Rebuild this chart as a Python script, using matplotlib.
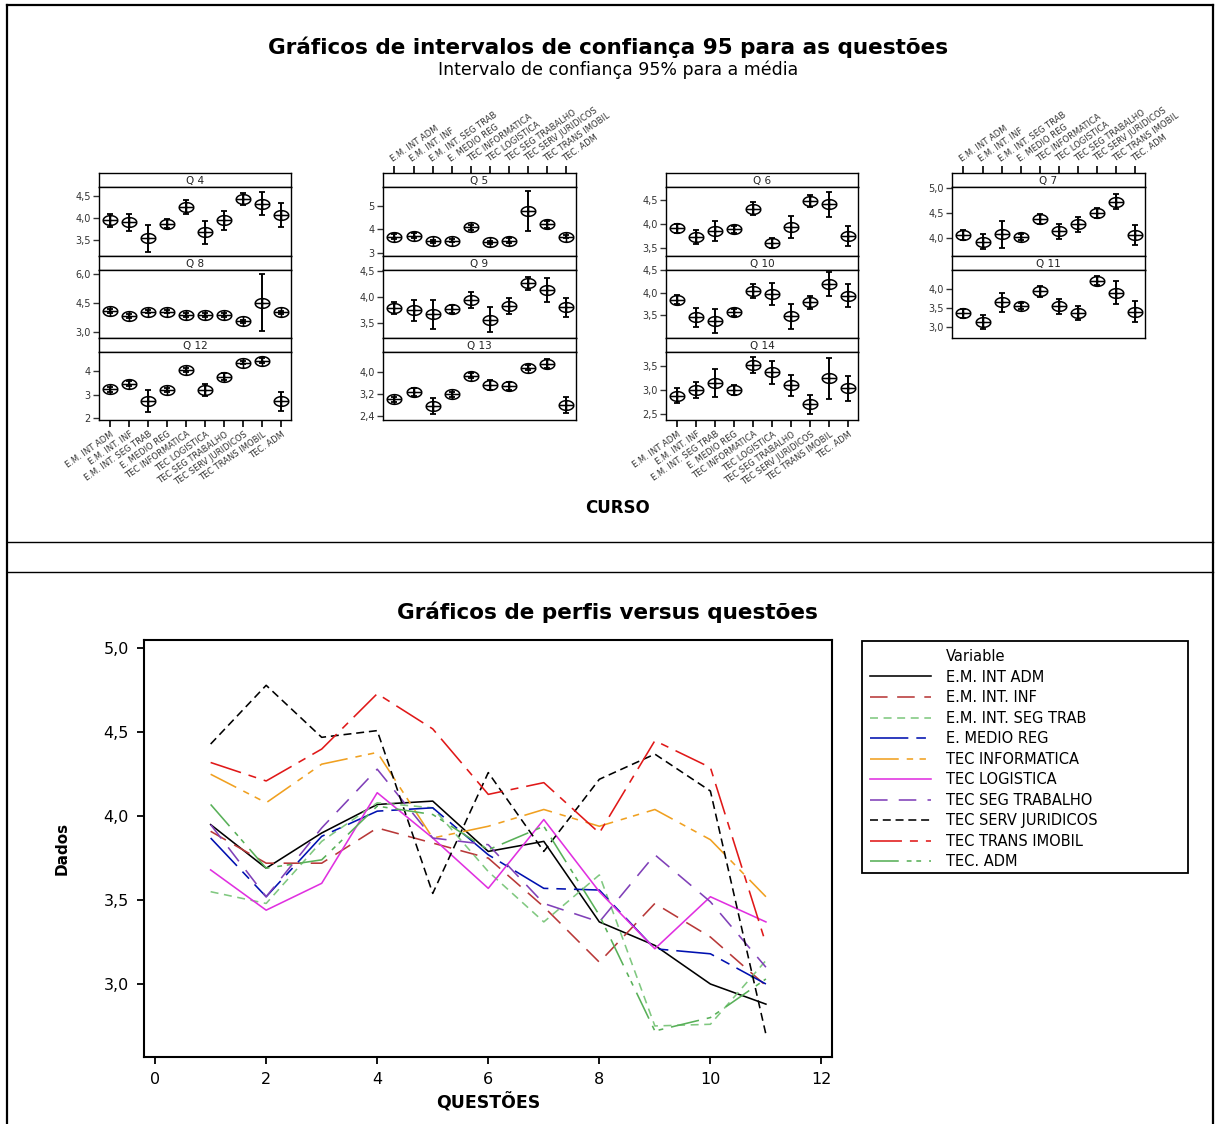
import numpy as np
import matplotlib.pyplot as plt
from matplotlib.path import Path
from matplotlib.lines import Line2D
from matplotlib.patches import Rectangle
from matplotlib.ticker import FuncFormatter

plt.rcParams['font.family'] = ['DejaVu Sans']

# cursos (categorias) e questões
courses = ["E.M. INT ADM", "E.M. INT. INF", "E.M. INT. SEG TRAB", "E. MEDIO REG",
           "TEC INFORMATICA", "TEC LOGISTICA", "TEC SEG TRABALHO",
           "TEC SERV JURIDICOS", "TEC TRANS IMOBIL", "TEC. ADM"]
questions = ["Q 4", "Q 5", "Q 6", "Q 7", "Q 8", "Q 9", "Q 10", "Q 11", "Q 12", "Q 13", "Q 14"]

# médias por questão (uma posição por curso)
mean_q4 = [3.95, 3.91, 3.55, 3.87, 4.25, 3.68, 3.95, 4.43, 4.32, 4.07]
mean_q5 = [3.69, 3.72, 3.48, 3.52, 4.08, 3.44, 3.52, 4.78, 4.21, 3.69]
mean_q6 = [3.90, 3.72, 3.85, 3.88, 4.31, 3.60, 3.93, 4.47, 4.40, 3.74]
mean_q7 = [4.07, 3.93, 4.08, 4.03, 4.38, 4.14, 4.28, 4.51, 4.73, 4.06]
mean_q8 = [4.09, 3.84, 4.05, 4.05, 3.87, 3.87, 3.87, 3.54, 4.52, 4.01]
mean_q9 = [3.79, 3.75, 3.67, 3.77, 3.94, 3.57, 3.83, 4.26, 4.13, 3.80]
mean_q10 = [3.85, 3.46, 3.37, 3.57, 4.04, 3.98, 3.48, 3.79, 4.20, 3.94]
mean_q11 = [3.37, 3.13, 3.65, 3.56, 3.94, 3.55, 3.37, 4.22, 3.90, 3.41]
mean_q12 = [3.23, 3.48, 2.75, 3.21, 4.04, 3.21, 3.77, 4.37, 4.45, 2.72]
mean_q13 = [3.00, 3.28, 2.76, 3.18, 3.86, 3.52, 3.49, 4.15, 4.29, 2.80]
mean_q14 = [2.88, 2.99, 3.14, 3.00, 3.52, 3.37, 3.10, 2.70, 3.24, 3.03]

# meia amplitude do intervalo de confiança 95%
ci_q4 = [0.14, 0.19, 0.30, 0.10, 0.15, 0.25, 0.22, 0.13, 0.26, 0.27]
ci_q5 = [0.10, 0.10, 0.08, 0.08, 0.10, 0.08, 0.10, 0.85, 0.15, 0.08]
ci_q6 = [0.10, 0.14, 0.20, 0.08, 0.14, 0.10, 0.22, 0.12, 0.26, 0.21]
ci_q7 = [0.10, 0.15, 0.27, 0.06, 0.10, 0.15, 0.15, 0.10, 0.15, 0.20]
ci_q8 = [0.10, 0.10, 0.10, 0.10, 0.08, 0.08, 0.10, 0.08, 1.50, 0.08]
ci_q9 = [0.12, 0.20, 0.28, 0.08, 0.15, 0.24, 0.15, 0.12, 0.23, 0.18]
ci_q10 = [0.10, 0.21, 0.27, 0.08, 0.15, 0.24, 0.27, 0.15, 0.27, 0.25]
ci_q11 = [0.12, 0.18, 0.25, 0.08, 0.15, 0.20, 0.18, 0.12, 0.30, 0.27]
ci_q12 = [0.10, 0.12, 0.47, 0.08, 0.08, 0.25, 0.15, 0.08, 0.10, 0.40]
ci_q13 = [0.10, 0.15, 0.30, 0.08, 0.10, 0.18, 0.15, 0.10, 0.15, 0.30]
ci_q14 = [0.16, 0.17, 0.30, 0.10, 0.16, 0.24, 0.22, 0.20, 0.43, 0.26]

means = [mean_q4, mean_q5, mean_q6, mean_q7, mean_q8, mean_q9, mean_q10,
         mean_q11, mean_q12, mean_q13, mean_q14]
cis = [ci_q4, ci_q5, ci_q6, ci_q7, ci_q8, ci_q9, ci_q10, ci_q11, ci_q12, ci_q13, ci_q14]

W, H = 1217, 1124
fig = plt.figure(figsize=(W / 100, H / 100), dpi=100)


def px_axes(x0, y0, x1, y1):
    # eixos posicionados em pixels da imagem
    return fig.add_axes([x0 / W, 1 - y1 / H, (x1 - x0) / W, (y1 - y0) / H])


def fig_line(xs, ys, lw=1.6):
    fig.add_artist(Line2D([x / W for x in xs], [1 - y / H for y in ys],
                          transform=fig.transFigure, color='black', lw=lw))


def comma_fmt(dec):
    return FuncFormatter(lambda v, p: f"{v:.{dec}f}".replace('.', ','))


# moldura
fig_line([7, 7], [5, H])
fig_line([1213, 1213], [5, H])
fig_line([7, 1213], [5, 5])
fig_line([7, 1213], [542, 542], lw=1.0)
fig_line([7, 1213], [572, 572], lw=1.0)

# marcador: elipse com cruz
t = np.linspace(0, 2 * np.pi, 41)
verts = list(zip(1.5 * np.cos(t), np.sin(t))) + [(-1.5, 0), (1.5, 0), (0, -1), (0, 1)]
codes = [Path.MOVETO] + [Path.LINETO] * 40 + [Path.MOVETO, Path.LINETO, Path.MOVETO, Path.LINETO]
ci_marker = Path(verts, codes)

# ---- parte de cima: intervalos de confiança ----
fig.text(608 / W, 1 - 47 / H, "Gráficos de intervalos de confiança 95 para as questões",
         ha='center', va='center', fontsize=15.5, fontweight='bold')
fig.text(618 / W, 1 - 70 / H, "Intervalo de confiança 95% para a média",
         ha='center', va='center', fontsize=12.5)
fig.text(618 / W, 1 - 508 / H, "CURSO", ha='center', va='center', fontsize=12, fontweight='bold')

groups = [(99, 291, [0, 4, 8], 'bottom'),
          (383, 576, [1, 5, 9], 'top'),
          (666, 858, [2, 6, 10], 'bottom'),
          (952, 1145, [3, 7], 'top')]
rows = [(173, 187, 256), (256, 270, 338), (338, 352, 420)]
ylims = {0: (3.15, 4.70), 1: (2.86, 5.80), 2: (3.33, 4.76), 3: (3.64, 5.03),
         4: (2.67, 6.22), 5: (3.22, 4.51), 6: (3.0, 4.51), 7: (2.72, 4.50),
         8: (1.93, 4.82), 9: (2.26, 4.71), 10: (2.37, 3.79)}
yticks = {0: ([3.5, 4.0, 4.5], 1), 1: ([3, 4, 5], 0), 2: ([3.5, 4.0, 4.5], 1),
          3: ([4.0, 4.5, 5.0], 1), 4: ([3.0, 4.5, 6.0], 1), 5: ([3.5, 4.0, 4.5], 1),
          6: ([3.5, 4.0, 4.5], 1), 7: ([3.0, 3.5, 4.0], 1), 8: ([2, 3, 4], 0),
          9: ([2.4, 3.2, 4.0], 1), 10: ([2.5, 3.0, 3.5], 1)}

xpos = np.arange(1, len(courses) + 1)
for x0, x1, qidx, side in groups:
    for r, qi in enumerate(qidx):
        s0, s1, p1 = rows[r]
        sax = px_axes(x0, s0, x1, s1)
        sax.set_xlim(0.4, 10.5)
        sax.set_yticks([])
        sax.text(0.5, 0.45, questions[qi], transform=sax.transAxes,
                 ha='center', va='center', fontsize=7.5, color='#222')
        for sp in sax.spines.values():
            sp.set_linewidth(1.0)
        if side == 'top' and r == 0:
            sax.set_xticks(xpos)
            sax.set_xticklabels(courses, rotation=35, ha='left', va='bottom',
                                rotation_mode='anchor', fontsize=6, color='#333')
            sax.tick_params(axis='x', bottom=False, top=True, labelbottom=False,
                            labeltop=True, length=5, width=1.2, pad=2)
        else:
            sax.set_xticks([])

        ax = px_axes(x0, s1, x1, p1)
        ax.set_xlim(0.4, 10.5)
        ax.set_ylim(*ylims[qi])
        ax.errorbar(xpos, means[qi], yerr=cis[qi], fmt='none', ecolor='black',
                    elinewidth=1.4, capsize=2.5, capthick=1.3)
        ax.plot(xpos, means[qi], ls='none', marker=ci_marker, ms=10.5,
                mfc='none', mec='black', mew=1.1)
        tk, dec = yticks[qi]
        ax.set_yticks(tk)
        ax.yaxis.set_major_formatter(comma_fmt(dec))
        ax.tick_params(axis='y', length=4, width=1.0, labelsize=7, colors='#333', pad=2)
        for sp in ax.spines.values():
            sp.set_linewidth(1.0)
        if side == 'bottom' and r == len(qidx) - 1:
            ax.set_xticks(xpos)
            ax.set_xticklabels(courses, rotation=35, ha='right', va='top',
                               rotation_mode='anchor', fontsize=6, color='#333')
            ax.tick_params(axis='x', length=5, width=1.2, pad=2)
        else:
            ax.set_xticks([])

# ---- parte de baixo: perfis ----
fig.text(607 / W, 1 - 612 / H, "Gráficos de perfis versus questões",
         ha='center', va='center', fontsize=15.5, fontweight='bold')

colors = ['black', '#b83838', '#80c880', '#0010b0', '#f0a020',
          '#e030e0', '#8040b8', 'black', '#e01818', '#58b058']
dashes = [None, (11, 6), (5, 3.5), (24, 5, 6, 5), (18, 5, 4, 4, 4, 5),
          None, (11, 7), (5, 3), (20, 5, 5, 5), (18, 5, 3, 3, 3, 5)]

ax2 = px_axes(144, 640, 832, 1057)
qx = np.arange(1, len(questions) + 1)
handles = [Line2D([], [], ls='none')]
for i, name in enumerate(courses):
    ys = [m[i] for m in means]
    line, = ax2.plot(qx, ys, color=colors[i], lw=1.15, label=name)
    if dashes[i] is not None:
        line.set_dashes(dashes[i])
    handles.append(line)

ax2.set_xlim(-0.2, 12.19)
ax2.set_ylim(2.565, 5.05)
ax2.set_xticks(range(0, 13, 2))
ax2.set_yticks([3.0, 3.5, 4.0, 4.5, 5.0])
ax2.yaxis.set_major_formatter(comma_fmt(1))
ax2.tick_params(direction='out', length=5, width=1.3, labelsize=11.5, pad=6)
for sp in ax2.spines.values():
    sp.set_linewidth(1.5)
ax2.set_xlabel("QUESTÕES", fontsize=12.5, fontweight='bold', labelpad=4)
ax2.set_ylabel("Dados", fontsize=11, fontweight='bold', labelpad=24)

fig.legend(handles, ["Variable"] + courses, loc='upper left',
           bbox_to_anchor=(862 / W, 1 - 641 / H), frameon=False,
           fontsize=10.5, handlelength=4.2, handletextpad=1.0,
           labelspacing=0.38, borderpad=0.55, borderaxespad=0)
fig.add_artist(Rectangle((862 / W, 1 - 873 / H), (1188 - 862) / W, (873 - 641) / H,
                         transform=fig.transFigure, fill=False, edgecolor='black', lw=1.3))

fig.savefig('out.png', dpi=100)
